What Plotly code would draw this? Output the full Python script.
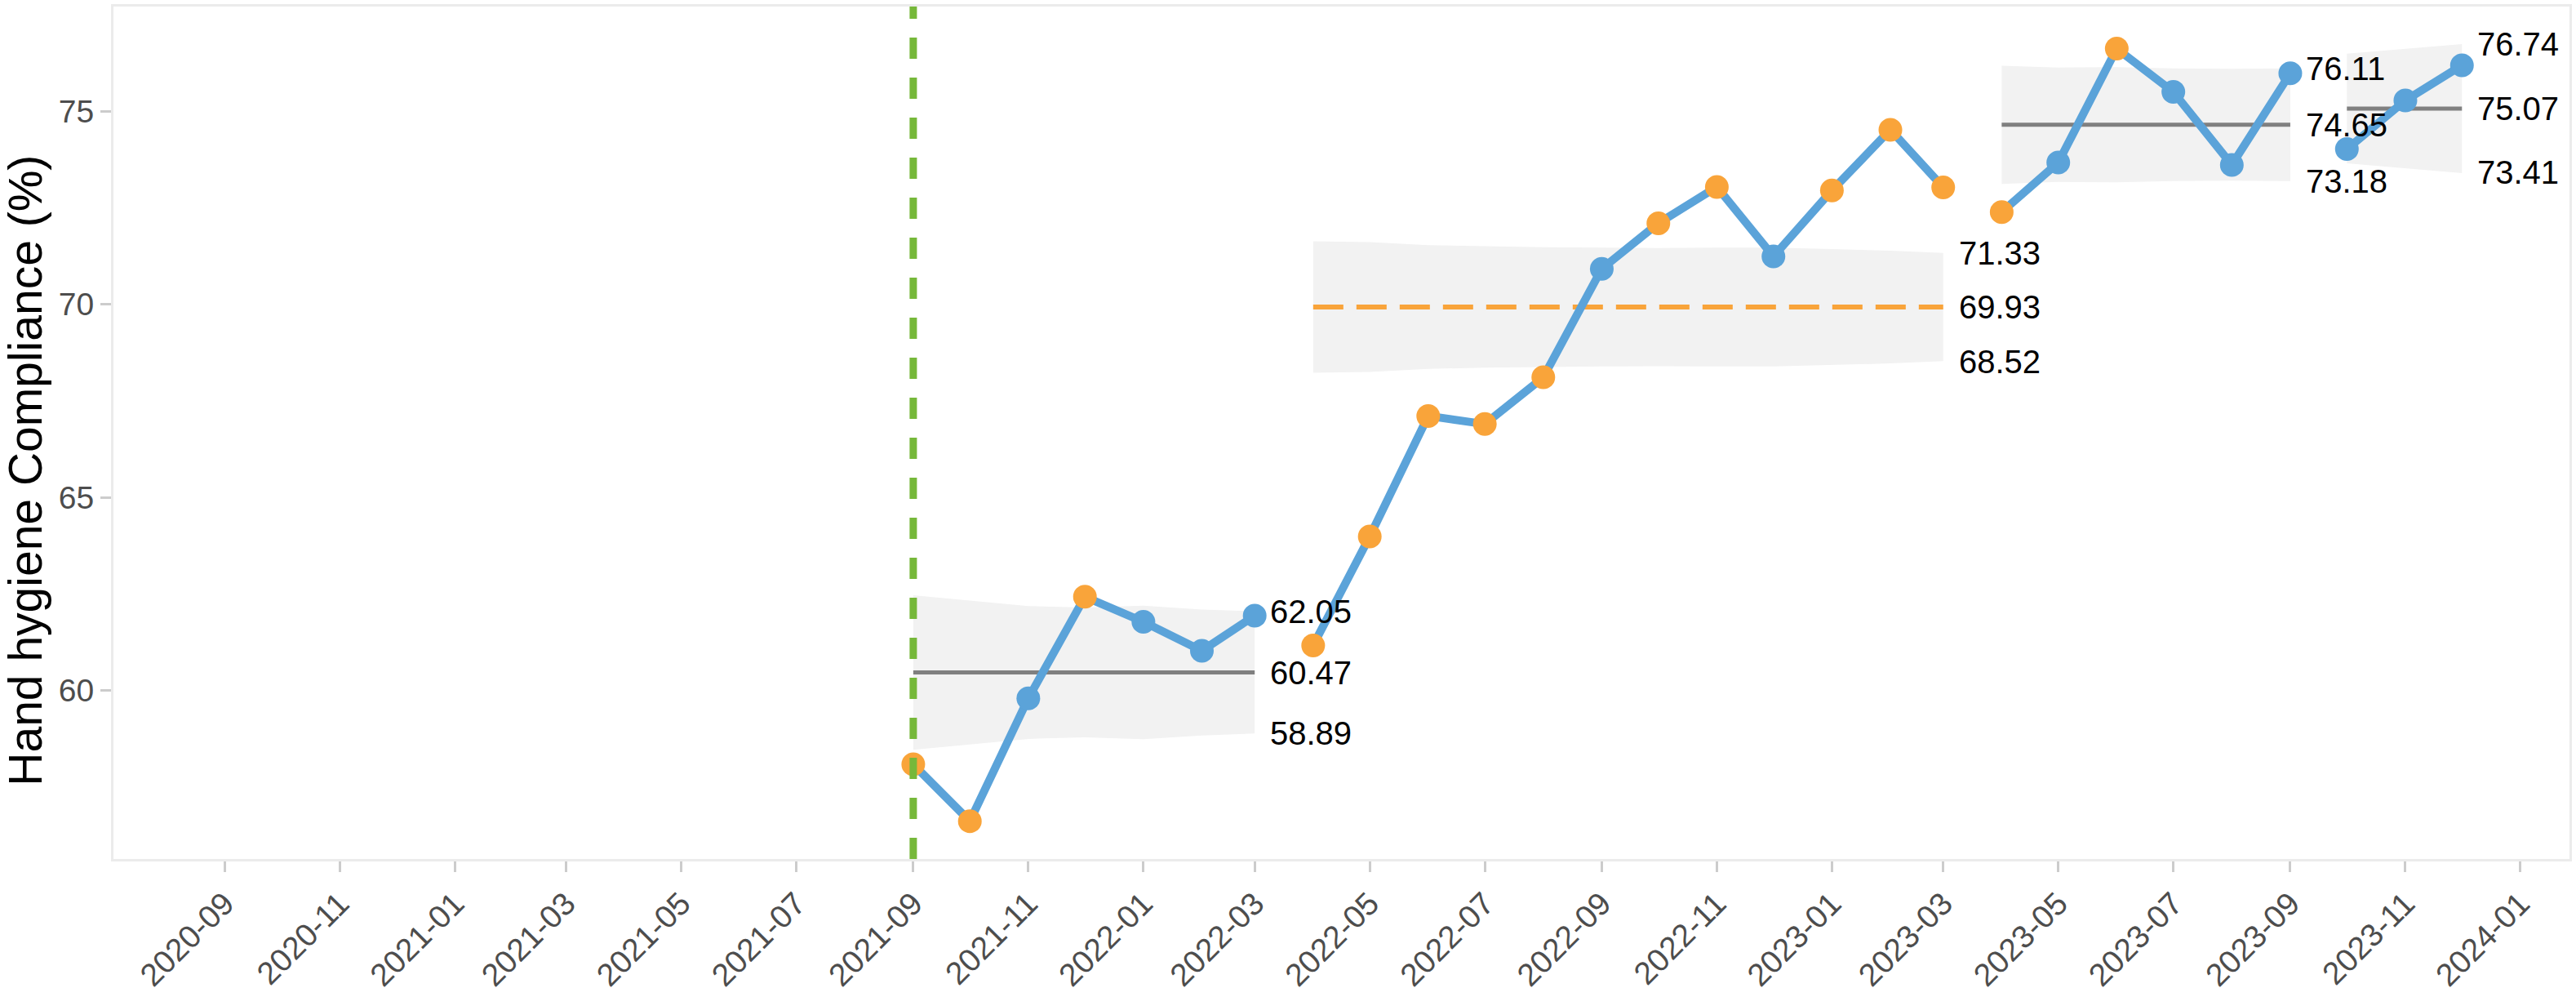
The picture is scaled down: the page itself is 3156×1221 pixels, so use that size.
import plotly.graph_objects as go

# ---------------- data ----------------
months = [
    "2021-09-01", "2021-10-01", "2021-11-01", "2021-12-01",
    "2022-01-01", "2022-02-01", "2022-03-01", "2022-04-01",
    "2022-05-01", "2022-06-01", "2022-07-01", "2022-08-01",
    "2022-09-01", "2022-10-01", "2022-11-01", "2022-12-01",
    "2023-01-01", "2023-02-01", "2023-03-01", "2023-04-01",
    "2023-05-01", "2023-06-01", "2023-07-01", "2023-08-01",
    "2023-09-01", "2023-10-01", "2023-11-01", "2023-12-01",
]
compliance = [
    58.09, 56.62, 59.80, 62.43, 61.78, 61.03, 61.94, 61.17,
    63.99, 67.11, 66.90, 68.11, 70.92, 72.10, 73.04, 71.24,
    72.95, 74.52, 73.03, 72.39, 73.67, 76.62, 75.50, 73.61,
    75.98, 74.02, 75.28, 76.19,
]
# 1 = special-cause signal (orange point), 0 = common cause (blue point)
signal = [
    1, 1, 0, 1, 0, 0, 0, 1,
    1, 1, 1, 1, 0, 1, 1, 0,
    1, 1, 1, 1, 0, 1, 0, 0,
    0, 0, 0, 0,
]
# half-width of the (variable) control limits for each month
limit_halfwidth = [
    2.00, 1.86, 1.72, 1.68, 1.73, 1.63, 1.58,
    1.70, 1.68, 1.60, 1.57, 1.55, 1.54, 1.53, 1.54, 1.54, 1.50, 1.46, 1.40,
    1.53, 1.48, 1.49, 1.46, 1.45, 1.46,
    1.42, 1.55, 1.67,
]
phase_start = [0, 7, 19, 25]
phase_end = [6, 18, 24, 27]
phase_cl = [60.47, 69.93, 74.65, 75.07]
phase_ucl = [62.05, 71.33, 76.11, 76.74]
phase_lcl = [58.89, 68.52, 73.18, 73.41]
phase_cl_shifted = [False, True, False, False]

intervention_date = "2021-09-01"

x_tick_dates = [
    "2020-09-01", "2020-11-01", "2021-01-01", "2021-03-01", "2021-05-01",
    "2021-07-01", "2021-09-01", "2021-11-01", "2022-01-01", "2022-03-01",
    "2022-05-01", "2022-07-01", "2022-09-01", "2022-11-01", "2023-01-01",
    "2023-03-01", "2023-05-01", "2023-07-01", "2023-09-01", "2023-11-01",
    "2024-01-01",
]
x_tick_labels = [d[:7] for d in x_tick_dates]
y_ticks = [60, 65, 70, 75]
y_title = "Hand hygiene Compliance (%)"

# ---------------- styles ----------------
BLUE = "#5BA3D9"
ORANGE = "#F9A43A"
GREEN = "#76B83A"
BAND = "#F2F2F2"
CL_GREY = "#808080"
FONT = "Liberation Sans, Arial, sans-serif"

W, H = 3156, 1221
ML, MR, MT, MB = 139, 6, 5, 164
plot_w = W - ML - MR
plot_h = H - MT - MB

fig = go.Figure()

# control-limit ribbons
for s, e, cl in zip(phase_start, phase_end, phase_cl):
    xs = months[s:e + 1]
    upper = [cl + h for h in limit_halfwidth[s:e + 1]]
    lower = [cl - h for h in limit_halfwidth[s:e + 1]]
    fig.add_trace(go.Scatter(
        x=xs + xs[::-1], y=upper + lower[::-1],
        fill="toself", fillcolor=BAND, line=dict(width=0),
        mode="lines", hoverinfo="skip", showlegend=False))

# centre lines
for s, e, cl, shifted in zip(phase_start, phase_end, phase_cl, phase_cl_shifted):
    fig.add_trace(go.Scatter(
        x=[months[s], months[e]], y=[cl, cl], mode="lines",
        line=dict(color=ORANGE if shifted else CL_GREY, width=6 if shifted else 5,
                  dash="37px,16px" if shifted else "solid"),
        hoverinfo="skip", showlegend=False))

# data line (one segment per phase)
for s, e in zip(phase_start, phase_end):
    fig.add_trace(go.Scatter(
        x=months[s:e + 1], y=compliance[s:e + 1], mode="lines",
        line=dict(color=BLUE, width=10), showlegend=False))

# points
fig.add_trace(go.Scatter(
    x=months, y=compliance, mode="markers",
    marker=dict(size=29, color=[ORANGE if f else BLUE for f in signal],
                line=dict(width=0)),
    showlegend=False))

# limit labels
annotations = []
for e, cl, ucl, lcl in zip(phase_end, phase_cl, phase_ucl, phase_lcl):
    for v in (ucl, cl, lcl):
        annotations.append(dict(
            x=months[e], y=v, xref="x", yref="y", text=f"{v:.2f}",
            showarrow=False, xanchor="left", yanchor="middle", xshift=17,
            font=dict(family=FONT, size=40, color="black")))

annotations.append(dict(
    x=(31 - ML) / plot_w, y=1 - (578 - MT) / plot_h, xref="paper", yref="paper",
    text=y_title, textangle=-90, showarrow=False, xanchor="center",
    yanchor="middle", font=dict(family=FONT, size=57, color="black")))

shapes = [dict(
    type="line", xref="x", yref="paper", x0=intervention_date, x1=intervention_date,
    y0=0, y1=1, layer="above",
    line=dict(color=GREEN, width=9, dash="26px,23px"))]

axis_common = dict(
    showgrid=False, zeroline=False, showline=True, mirror=True,
    linecolor="#EBEBEB", linewidth=3, ticks="outside", ticklen=13,
    tickwidth=3, tickcolor="#CCCCCC",
    tickfont=dict(family=FONT, size=39, color="#4D4D4D"))

fig.update_layout(
    width=W, height=H,
    margin=dict(l=ML, r=MR, t=MT, b=MB),
    paper_bgcolor="white", plot_bgcolor="white",
    xaxis=dict(range=["2020-07-04", "2024-01-27"], type="date",
               tickmode="array", tickvals=x_tick_dates, ticktext=x_tick_labels,
               tickangle=-45, **axis_common),
    yaxis=dict(range=[55.64, 77.71], tickmode="array", tickvals=y_ticks,
               ticktext=[str(t) for t in y_ticks], **axis_common),
    annotations=annotations, shapes=shapes, showlegend=False)

fig.write_html("out.html")
